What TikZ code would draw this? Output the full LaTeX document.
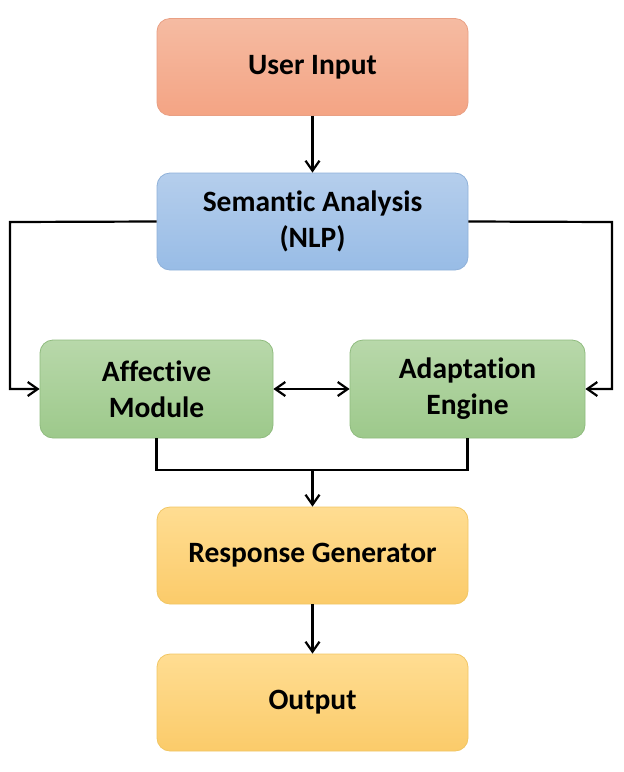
\documentclass[tikz,border=0pt]{standalone}
\usepackage{fontspec}
\setmainfont{Carlito}[Ligatures=NoCommon]
\usetikzlibrary{arrows.meta,calc}
\definecolor{orTop}{HTML}{F5BBA2}
\definecolor{orBot}{HTML}{F4A484}
\definecolor{orLine}{HTML}{E9A084}
\definecolor{blTop}{HTML}{B5CEEC}
\definecolor{blBot}{HTML}{98BCE6}
\definecolor{blLine}{HTML}{8FB1D9}
\definecolor{grTop}{HTML}{B8D8AA}
\definecolor{grBot}{HTML}{9DC98B}
\definecolor{grLine}{HTML}{8FBB7E}
\definecolor{yeTop}{HTML}{FFDD92}
\definecolor{yeBot}{HTML}{FBCB6A}
\definecolor{yeLine}{HTML}{F1C663}
\tikzset{
  box/.style={rectangle, rounded corners=13pt, line width=0.8pt, align=center,
    font=\fontsize{29.5}{36}\selectfont\bfseries, inner sep=0pt},
  orbox/.style={box, draw=orLine, top color=orTop, bottom color=orBot},
  blbox/.style={box, draw=blLine, top color=blTop, bottom color=blBot},
  grbox/.style={box, draw=grLine, top color=grTop, bottom color=grBot},
  yebox/.style={box, draw=yeLine, top color=yeTop, bottom color=yeBot},
  wide/.style={minimum width=311pt, minimum height=97pt},
  conn/.style={line width=2.2pt, black},
  tip/.tip={Straight Barb[length=10pt,width=14pt,line width=2.2pt]},
  arr/.style={conn, -tip},
  darr/.style={conn, tip-tip}
}
\begin{document}
\begin{tikzpicture}[x=1pt,y=-1pt]
\useasboundingbox (0,0) rectangle (624,772);
\node[orbox, wide] (ui) at (312.5,67) {User Input};
\node[blbox, wide] (sa) at (312.5,221.5) {Semantic Analysis\\(NLP)};
\node[grbox, minimum width=233pt, minimum height=98pt] (am) at (156.5,389) {Affective\\Module};
\node[grbox, minimum width=235pt, minimum height=98pt] (ae) at (467.5,389) {Adaptation\\Engine};
\node[yebox, wide] (rg) at (312.5,555.5) {Response Generator};
\node[yebox, wide] (out) at (312.5,702.5) {Output};
\coordinate (lft) at (10,222);
\coordinate (rgt) at (612,222);
\coordinate (j) at (312.5,470);
\draw[arr] (ui.south) -- (sa.north);
\draw[arr] (sa.west) -- (lft) |- (am.west);
\draw[arr] (sa.east) -- (rgt) |- (ae.east);
\draw[darr] (am.east) -- (ae.west);
\draw[conn] (am.south) |- (j) -| (ae.south);
\draw[arr] (j) -- (rg.north);
\draw[arr] (rg.south) -- (out.north);
\end{tikzpicture}
\end{document}
